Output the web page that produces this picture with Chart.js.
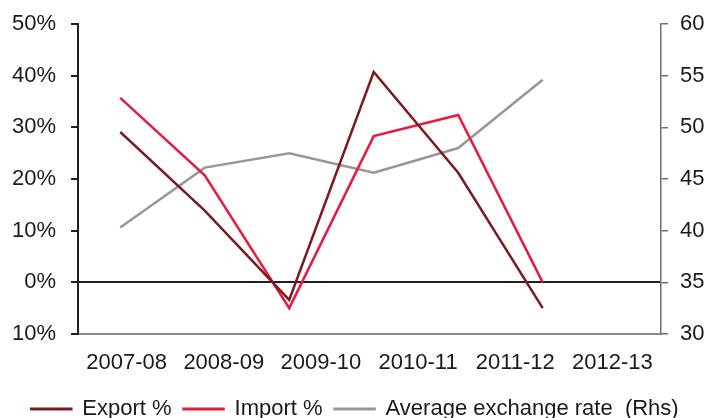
<!DOCTYPE html>
<html>
<head>
<meta charset="utf-8">
<script src="https://cdn.jsdelivr.net/npm/chart.js@4.4.1/dist/chart.umd.min.js"></script>
<style>
  html, body { margin: 0; padding: 0; background: #fff; }
  #wrap { width: 710px; height: 418px; }
</style>
</head>
<body>
<div id="wrap"><canvas id="grafica" width="710" height="418"></canvas></div>
<script>
// datos
const years = ['2007-08', '2008-09', '2009-10', '2010-11', '2011-12', '2012-13'];
const exportPct = [29.1, 13.9, -3.4, 40.7, 21.2, -5.0];
const importPct = [35.7, 20.7, -5.0, 28.3, 32.4, 0.0];
const exchangeRate = [40.3, 46.1, 47.5, 45.6, 48.0, 54.6];
const leftTicks = { '50': '50%', '40': '40%', '30': '30%', '20': '20%', '10': '10%', '0': '0%', '-10': '10%' };
const rightTicks = [30, 35, 40, 45, 50, 55, 60];

const fuente = "'Liberation Sans', Arial, sans-serif";

function puntos(values) {
    return values.map((v, i) => ({ x: i, y: v }));
}

// quita el relleno que Chart.js reserva para media etiqueta arriba/abajo
function sinRelleno(scale, ancho) {
    scale.width = ancho;
    scale.paddingTop = 0;
    scale.paddingBottom = 0;
}

const ctx = document.getElementById('grafica').getContext('2d');
const chart = new Chart(ctx, {
    type: 'line',
    data: {
        labels: years,
        datasets: [{
            label: 'Export %',
            data: puntos(exportPct),
            borderColor: '#7b1a1f',
            backgroundColor: '#7b1a1f',
            borderWidth: 2.5,
            pointRadius: 0,
            xAxisID: 'x',
            yAxisID: 'y'
        }, {
            label: 'Import %',
            data: puntos(importPct),
            borderColor: '#e8193c',
            backgroundColor: '#e8193c',
            borderWidth: 2.5,
            pointRadius: 0,
            xAxisID: 'x',
            yAxisID: 'y'
        }, {
            label: 'Average exchange rate  (Rhs)',
            data: puntos(exchangeRate),
            borderColor: '#979797',
            backgroundColor: '#979797',
            borderWidth: 2.5,
            pointRadius: 0,
            xAxisID: 'x',
            yAxisID: 'y2'
        }]
    },
    options: {
        responsive: false,
        animation: false,
        layout: { padding: { top: 24, left: 0, right: 0, bottom: -12 } },
        plugins: {
            tooltip: { enabled: false },
            legend: {
                position: 'bottom',
                labels: {
                    color: '#1a1a1a',
                    font: { family: fuente, size: 22 },
                    boxWidth: 40,
                    boxHeight: 0.5,
                    padding: 12
                }
            }
        },
        scales: {
            // eje lineal oculto para posicionar las lineas
            x: {
                type: 'linear',
                min: -0.5,
                max: 6.4,
                display: false
            },
            // eje de categorias solo para las etiquetas
            xLabels: {
                type: 'category',
                position: 'bottom',
                offset: true,
                grid: { display: false, drawTicks: false, tickLength: 0 },
                border: { display: true, color: '#8a8a8a', width: 2 },
                afterFit: scale => {
                    scale.height = 52;
                    scale.paddingLeft = 0;
                    scale.paddingRight = 0;
                },
                ticks: {
                    color: '#1a1a1a',
                    font: { family: fuente, size: 22 },
                    padding: 16,
                    maxRotation: 0,
                    autoSkip: false
                }
            },
            y: {
                position: 'left',
                min: -10,
                max: 50,
                afterFit: scale => sinRelleno(scale, 78),
                grid: {
                    drawOnChartArea: true,
                    color: c => (c.tick && c.tick.value === 0 ? '#231f20' : 'rgba(0,0,0,0)'),
                    lineWidth: 2,
                    tickColor: '#231f20',
                    tickLength: 7
                },
                border: { color: '#231f20', width: 2 },
                ticks: {
                    stepSize: 10,
                    color: '#1a1a1a',
                    font: { family: fuente, size: 22 },
                    padding: 15,
                    callback: value => leftTicks[String(value)]
                }
            },
            y2: {
                position: 'right',
                min: 30,
                max: 60,
                afterFit: scale => sinRelleno(scale, 49),
                grid: {
                    drawOnChartArea: false,
                    tickColor: '#6f6f6f',
                    tickLength: 7,
                    lineWidth: 1.5
                },
                border: { color: '#6f6f6f', width: 1.5 },
                afterBuildTicks: scale => {
                    scale.ticks = rightTicks.map(v => ({ value: v }));
                },
                ticks: {
                    color: '#1a1a1a',
                    font: { family: fuente, size: 22 },
                    padding: 12
                }
            }
        }
    }
});
</script>
</body>
</html>
